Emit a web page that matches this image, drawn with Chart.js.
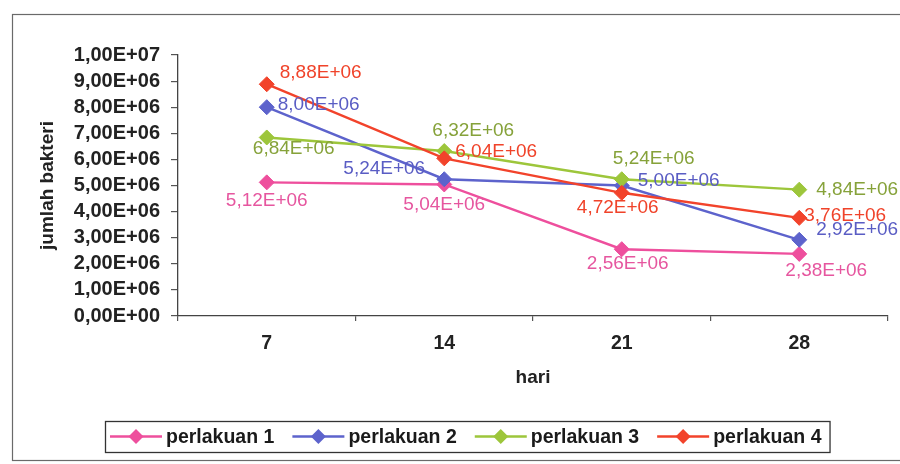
<!DOCTYPE html>
<html>
<head>
<meta charset="utf-8">
<script src="https://cdn.jsdelivr.net/npm/chart.js@4.4.1/dist/chart.umd.min.js"></script>
<style>
  html, body { margin: 0; padding: 0; background: #fff; }
  #wrap { width: 900px; height: 464px; position: relative; }
</style>
</head>
<body>
<div id="wrap"><canvas id="c" width="900" height="464"></canvas></div>
<script>
// Days of observation (x axis)
const hari = ['7', '14', '21', '28'];

// Bacteria counts per treatment
const perlakuan1 = [5.12e6, 5.04e6, 2.56e6, 2.38e6];
const perlakuan2 = [8.00e6, 5.24e6, 5.00e6, 2.92e6];
const perlakuan3 = [6.84e6, 6.32e6, 5.24e6, 4.84e6];
const perlakuan4 = [8.88e6, 6.04e6, 4.72e6, 3.76e6];

const seriesNames = ['perlakuan 1', 'perlakuan 2', 'perlakuan 3', 'perlakuan 4'];

// Y axis range
const yMin = 0;
const yMax = 1e7;
const yStep = 1e6;

const lineColors = ['#ee4f9d', '#5d63cc', '#9dc63b', '#f2432b'];
const labelColors = ['#e6569f', '#5a5dc4', '#86a23a', '#f0432a'];

// Value label placement per point: [dx, dy, textAlign]
const labelPlacement = [
  [[0, 18, 'center'], [0, 20, 'center'], [6, 15, 'center'], [27, 17, 'center']],
  [[11, -2, 'left'], [-60, -10, 'center'], [16, -5, 'left'], [17, -10, 'left']],
  [[27, 11, 'center'], [29, -20, 'center'], [32, -20, 'center'], [17, 0, 'left']],
  [[13, -11, 'left'], [11, -7, 'left'], [-4, 15, 'center'], [5, -2, 'left']]
];

const FONT = "'Liberation Sans', Arial, sans-serif";

// Scientific notation with a decimal comma, e.g. 8,88E+06
function sci(v) {
  if (v === 0) return '0,00E+00';
  const e = Math.floor(Math.log10(Math.abs(v)) + 1e-9);
  const m = v / Math.pow(10, e);
  const sign = e < 0 ? '-' : '+';
  const ea = Math.abs(e);
  return m.toFixed(2).replace('.', ',') + 'E' + sign + (ea < 10 ? '0' + ea : ea);
}

const allSeries = [perlakuan1, perlakuan2, perlakuan3, perlakuan4];

const datasets = allSeries.map((vals, i) => ({
  label: seriesNames[i],
  data: vals,
  borderColor: lineColors[i],
  backgroundColor: lineColors[i],
  borderWidth: 2.4,
  pointStyle: 'rectRot',
  pointRadius: 7.5,
  pointHoverRadius: 7.5,
  pointBorderWidth: 1,
  tension: 0,
  order: 3 - i
}));

// Frame, value labels and the boxed legend
const decorations = {
  id: 'decorations',
  beforeDraw(chart) {
    const ctx = chart.ctx;
    ctx.save();
    ctx.fillStyle = '#fff';
    ctx.fillRect(0, 0, chart.width, chart.height);
    ctx.strokeStyle = '#6a6a6a';
    ctx.lineWidth = 1.2;
    ctx.strokeRect(12.5, 14.5, 920, 446);
    ctx.restore();
  },
  afterDatasetsDraw(chart) {
    const ctx = chart.ctx;
    ctx.save();
    ctx.font = '19px ' + FONT;
    ctx.textBaseline = 'middle';
    chart.data.datasets.forEach((ds, i) => {
      const meta = chart.getDatasetMeta(i);
      meta.data.forEach((pt, j) => {
        const p = labelPlacement[i][j];
        ctx.fillStyle = labelColors[i];
        ctx.textAlign = p[2];
        ctx.fillText(sci(ds.data[j]), pt.x + p[0], pt.y + p[1]);
      });
    });
    ctx.restore();
  },
  afterDraw(chart) {
    const ctx = chart.ctx;
    ctx.save();
    ctx.font = 'bold 19.5px ' + FONT;
    ctx.textBaseline = 'middle';
    ctx.textAlign = 'left';
    const boxLeft = 105, boxTop = 421, boxH = 31;
    const cy = boxTop + boxH / 2;
    let x = boxLeft + 5;
    const lineLen = 52, gap = 4, itemGap = 18;
    chart.data.datasets.forEach((ds, i) => {
      ctx.strokeStyle = lineColors[i];
      ctx.lineWidth = 2.4;
      ctx.beginPath();
      ctx.moveTo(x, cy);
      ctx.lineTo(x + lineLen, cy);
      ctx.stroke();
      const mx = x + lineLen / 2;
      ctx.fillStyle = lineColors[i];
      ctx.beginPath();
      ctx.moveTo(mx, cy - 7.5);
      ctx.lineTo(mx + 7.5, cy);
      ctx.lineTo(mx, cy + 7.5);
      ctx.lineTo(mx - 7.5, cy);
      ctx.closePath();
      ctx.fill();
      ctx.fillStyle = '#1a1a1a';
      const tx = x + lineLen + gap;
      ctx.fillText(ds.label, tx, cy + 1);
      x = tx + ctx.measureText(ds.label).width + itemGap;
    });
    const boxRight = x - itemGap + 8;
    ctx.strokeStyle = '#333';
    ctx.lineWidth = 1.3;
    ctx.strokeRect(boxLeft + 0.5, boxTop + 0.5, boxRight - boxLeft, boxH);
    ctx.restore();
  }
};

new Chart(document.getElementById('c'), {
  type: 'line',
  data: { labels: hari, datasets: datasets },
  options: {
    responsive: false,
    animation: false,
    devicePixelRatio: 1,
    layout: { padding: { left: 0, top: 55, right: 12, bottom: 68 } },
    plugins: {
      legend: { display: false },
      tooltip: { enabled: false }
    },
    scales: {
      x: {
        offset: true,
        grid: {
          offset: true,
          drawOnChartArea: false,
          tickLength: 5,
          color: '#555',
          lineWidth: 1.2
        },
        border: { color: '#444', width: 1.3 },
        ticks: {
          color: '#222',
          font: { family: FONT, size: 19.5, weight: 'bold' },
          padding: 11,
          maxRotation: 0,
          autoSkip: false
        },
        title: {
          display: true,
          text: 'hari',
          color: '#222',
          font: { family: FONT, size: 19, weight: 'bold' },
          padding: { top: 0, bottom: 7 }
        },
        afterFit(scale) { scale.height = 80; }
      },
      y: {
        min: yMin,
        max: yMax,
        grid: {
          drawOnChartArea: false,
          tickLength: 7,
          color: '#555',
          lineWidth: 1.2
        },
        border: { color: '#444', width: 1.3 },
        ticks: {
          stepSize: yStep,
          autoSkip: false,
          color: '#222',
          font: { family: FONT, size: 20, weight: 'bold', lineHeight: 1 },
          padding: 11,
          callback: (v) => sci(v)
        },
        title: {
          display: true,
          text: 'jumlah bakteri',
          color: '#222',
          font: { family: FONT, size: 19, weight: 'bold' },
          padding: { top: 36, bottom: 0 }
        },
        afterFit(scale) { scale.width = 178; }
      }
    }
  },
  plugins: [decorations]
});
</script>
</body>
</html>
